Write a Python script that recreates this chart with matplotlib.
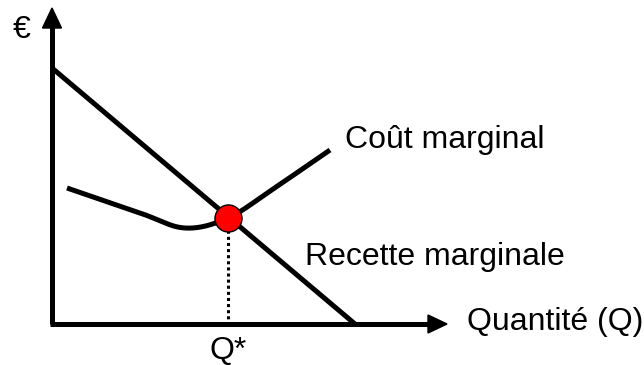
import numpy as np
import matplotlib.pyplot as plt
from matplotlib.patches import FancyArrow

# diagram coordinates (pixel-like space, y grows downward)
mr_x = [52, 355]
mr_y = [68, 324]

mc_x = [67, 140, 185, 228, 273, 330]
mc_y = [188, 213, 228, 218, 189, 150]

q_star = 228
p_star = 218

labels = {
    "euro": "€",
    "mc": "Coût marginal",
    "mr": "Recette marginale",
    "qty": "Quantité (Q)",
    "qstar": "Q*",
}

plt.rcParams['font.family'] = ['Liberation Sans', 'DejaVu Sans']


def catmull_rom(xs, ys, n=40):
    # smooth curve through the given points
    px = np.concatenate([[2 * xs[0] - xs[1]], xs, [2 * xs[-1] - xs[-2]]])
    py = np.concatenate([[2 * ys[0] - ys[1]], ys, [2 * ys[-1] - ys[-2]]])
    out_x, out_y = [], []
    s = np.linspace(0, 1, n)
    for i in range(1, len(px) - 2):
        for p, out in ((px, out_x), (py, out_y)):
            p0, p1, p2, p3 = p[i - 1], p[i], p[i + 1], p[i + 2]
            out.extend(0.5 * (2 * p1 + (-p0 + p2) * s
                              + (2 * p0 - 5 * p1 + 4 * p2 - p3) * s ** 2
                              + (-p0 + 3 * p1 - 3 * p2 + p3) * s ** 3))
    return np.array(out_x), np.array(out_y)


fig = plt.figure(figsize=(6.44, 3.65), dpi=100)
ax = fig.add_axes([0, 0, 1, 1])
ax.set_xlim(0, 644)
ax.set_ylim(365, 0)
ax.axis('off')

lw = 3.6
# axes with arrows
ax.plot([52, 52], [324, 26], color='black', lw=lw, solid_capstyle='butt')
ax.plot([50, 430], [324, 324], color='black', lw=lw, solid_capstyle='butt')
ax.add_patch(FancyArrow(52, 28, 0, -20, width=0, head_width=19, head_length=20,
                        length_includes_head=True, color='black'))
ax.add_patch(FancyArrow(428, 324, 19, 0, width=0, head_width=18, head_length=19,
                        length_includes_head=True, color='black'))

# marginal revenue (straight line)
ax.plot(mr_x, mr_y, color='black', lw=lw, solid_capstyle='butt')

# marginal cost (smooth curve through read points)
cx, cy = catmull_rom(np.array(mc_x, float), np.array(mc_y, float))
ax.plot(cx, cy, color='black', lw=lw, solid_capstyle='butt')

# dotted drop line and equilibrium point
ax.plot([q_star, q_star], [p_star, 322], color='black', lw=2.2, linestyle=(0, (1, 1)))
ax.scatter([q_star], [p_star], s=380, color='red', edgecolor='black', linewidth=1, zorder=5)

fs = 23
ax.text(22, 30, labels["euro"], fontsize=fs, ha='center', va='center')
ax.text(345, 140, labels["mc"], fontsize=fs, ha='left', va='center')
ax.text(305, 257, labels["mr"], fontsize=fs, ha='left', va='center')
ax.text(467, 322, labels["qty"], fontsize=fs, ha='left', va='center')
ax.text(q_star, 351, labels["qstar"], fontsize=fs, ha='center', va='center')

fig.savefig("out.png", dpi=100)
